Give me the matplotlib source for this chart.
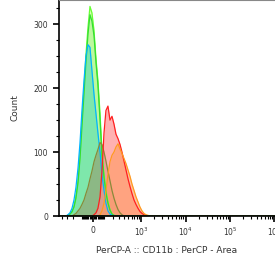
import numpy as np
import matplotlib
matplotlib.use('Agg')
import matplotlib.pyplot as plt
from matplotlib.ticker import FixedLocator, NullFormatter

# Canales (PerCP-A) donde estan los centros de los bins
canales = [-468, -316, -281, -248, -218, -191, -166, -142, -120, -100, -80, -62, -43,
           -26, -9, 9, 26, 43, 62, 80, 100, 120, 142, 166, 191, 218, 248, 281,
           316, 354, 397, 444, 496, 553, 615, 685, 762, 847, 940, 1044, 1159,
           1288, 1431, 1587, 1761, 1030000]

# Conteos por muestra
cian = [0, 0, 2, 5, 12, 25, 45, 75, 115, 165, 212, 250, 268,
        264, 228, 190, 160, 130, 100, 65, 40, 20, 8, 3, 1, 0, 0, 0,
        0, 0, 0, 0, 0, 0, 0, 0, 0, 0, 0, 0, 0,
        0, 0, 0, 0, 0]
verde = [0, 0, 1, 3, 6, 15, 30, 55, 95, 150, 200, 252, 296,
         328, 318, 290, 246, 212, 160, 100, 65, 40, 22, 10, 3, 1, 0, 0,
         0, 0, 0, 0, 0, 0, 0, 0, 0, 0, 0, 0, 0,
         0, 0, 0, 0, 0]
verde2 = [0, 0, 1, 3, 7, 14, 28, 52, 90, 140, 192, 240, 285,
          315, 305, 282, 240, 205, 150, 95, 60, 36, 20, 9, 3, 1, 0, 0,
          0, 0, 0, 0, 0, 0, 0, 0, 0, 0, 0, 0, 0,
          0, 0, 0, 0, 0]
cafe = [0, 0, 0, 0, 0, 2, 4, 8, 12, 18, 25, 35, 45,
        58, 70, 85, 95, 104, 115, 112, 100, 86, 70, 55, 40, 28, 18, 10,
        5, 2, 0, 0, 0, 0, 0, 0, 0, 0, 0, 0, 0,
        0, 0, 0, 0, 0]
rojo = [0, 0, 0, 0, 0, 0, 0, 0, 0, 0, 0, 0, 0,
        0, 0, 2, 5, 12, 30, 70, 130, 165, 172, 150, 156, 144, 128, 121,
        112, 100, 86, 72, 58, 46, 35, 25, 18, 12, 7, 4, 2,
        1, 0, 0, 0, 0]
naranja = [0, 0, 0, 0, 0, 0, 0, 0, 0, 0, 0, 0, 0,
           0, 0, 0, 0, 0, 2, 8, 20, 40, 65, 85, 95, 100, 108, 113,
           105, 98, 90, 82, 72, 62, 50, 40, 30, 22, 14, 8, 4,
           2, 1, 0, 0, 0]

W = 166.0


def fwd(x):
    return np.arcsinh(np.asarray(x, dtype=float) / W)


def inv(y):
    return W * np.sinh(np.asarray(y, dtype=float))


fig = plt.figure(figsize=(2.75, 2.64), dpi=100)
ax = fig.add_axes([59 / 275, 1 - 216 / 264, 1 - 59 / 275, 216 / 264])
ax.set_xscale('function', functions=(fwd, inv))

muestras = [
    (verde, '#66ff33', '#ccff99', 0.8),
    (verde2, '#33dd33', '#99ee88', 0.4),
    (cian, '#00b4ff', '#40d8b8', 0.5),
    (cafe, '#8a8a3a', '#9a8a60', 0.5),
    (rojo, '#ff2020', '#ff9090', 0.7),
    (naranja, '#ff9a20', '#ff9a60', 0.6),
]
for conteos, linea, relleno, a in muestras:
    ax.fill_between(canales, conteos, color=relleno, alpha=a, lw=0)
    ax.plot(canales, conteos, color=linea, lw=0.9)

ax.plot([canales[0], canales[-1]], [0, 0], color='#3a7a2a', lw=1.2)

ax.set_xlim(-468, 1030000)
ax.set_ylim(0, 338)

ax.set_yticks([0, 100, 200, 300])
ax.yaxis.set_minor_locator(FixedLocator(np.arange(25, 338, 25)))
mayores = [0, 1e3, 1e4, 1e5, 1e6]
ax.set_xticks(mayores)
ax.set_xticklabels(['0', r'$10^3$', r'$10^4$', r'$10^5$', r'$10^6$'])
menores = [-400, -300, -200, -100] + list(range(-90, 0, 10)) + list(range(10, 100, 10)) \
    + list(range(100, 1000, 100))
for d in [1e3, 1e4, 1e5]:
    menores += [k * d for k in range(2, 10)]
ax.xaxis.set_minor_locator(FixedLocator(menores))
ax.xaxis.set_minor_formatter(NullFormatter())

ax.tick_params(which='major', length=4, width=1.2, labelsize=5.5,
               labelcolor='#333333', pad=4)
ax.tick_params(which='minor', length=2, width=0.8)
ax.tick_params(axis='x', which='major', pad=3)

for s in ['left', 'bottom']:
    ax.spines[s].set_linewidth(1.2)
ax.spines['top'].set_color('#888888')
ax.spines['right'].set_visible(False)

ax.set_xlabel('PerCP-A :: CD11b : PerCP - Area', fontsize=6.5, color='#333333',
              labelpad=6)
ax.set_ylabel('Count', fontsize=6.5, color='#333333', labelpad=10)

fig.savefig('out.png', dpi=100)
